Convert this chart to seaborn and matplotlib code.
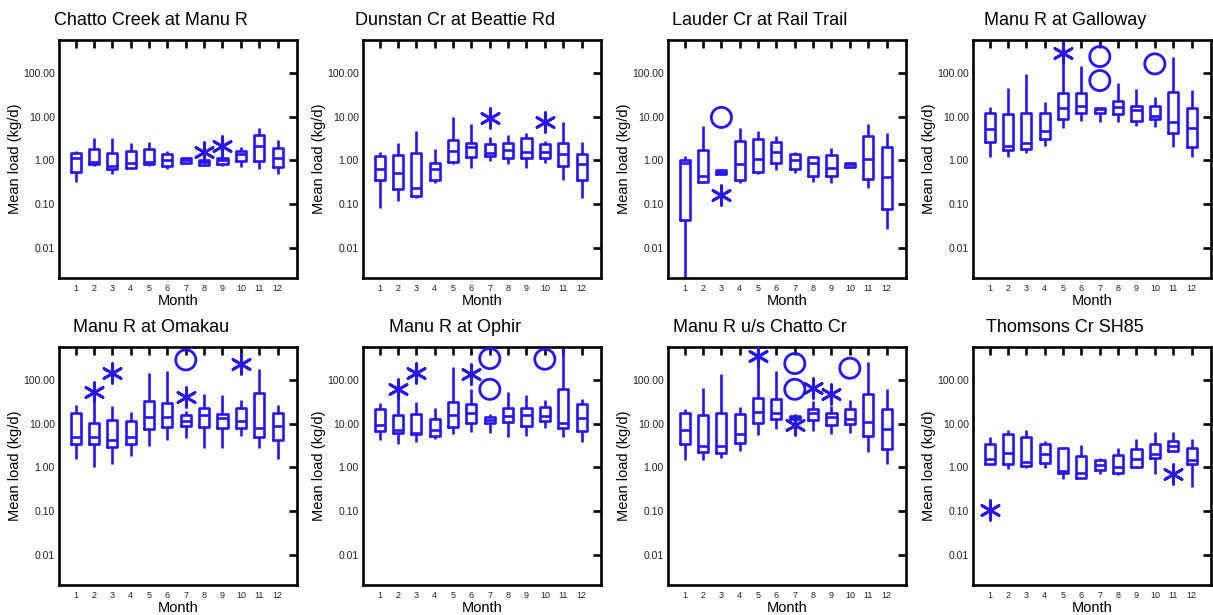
import numpy as np
import pandas as pd
import matplotlib
matplotlib.use("Agg")
import matplotlib.pyplot as plt
from matplotlib.ticker import NullLocator
import seaborn as sns

months = list(range(1, 13))
month_labels = [str(m) for m in months]
y_ticks = [0.01, 0.1, 1, 10, 100]
y_tick_labels = ["0.01", "0.10", "1.00", "10.00", "100.00"]

# box statistics per month (kg/d): lower whisker, lower hinge, median,
# upper hinge, upper whisker; then outside values (*) and far outside (o)
chatto_creek = {
    "lo":  [0.32, 0.75, 0.50, 0.62, 0.74, 0.65, 0.82, 0.75, 0.75, 0.72, 0.63, 0.49],
    "q1":  [0.53, 0.82, 0.63, 0.68, 0.81, 0.74, 0.88, 0.78, 0.82, 0.97, 0.97, 0.72],
    "med": [1.11, 0.93, 0.75, 0.85, 0.93, 1.02, 1.00, 0.90, 1.02, 1.40, 2.14, 1.11],
    "q3":  [1.50, 1.79, 1.50, 1.67, 1.79, 1.40, 1.13, 1.02, 1.11, 1.67, 3.80, 1.95],
    "hi":  [1.67, 3.20, 3.20, 2.55, 2.70, 1.67, 1.20, 1.05, 1.13, 2.06, 5.40, 2.93],
    "star": ([8, 9], [1.60, 2.17]),
    "circle": ([], []),
}
dunstan_cr = {
    "lo":  [0.079, 0.118, 0.134, 0.30, 0.81, 0.68, 0.98, 0.81, 0.68, 0.85, 0.35, 0.134],
    "q1":  [0.35, 0.22, 0.151, 0.35, 0.90, 1.21, 1.26, 1.15, 1.15, 1.15, 0.75, 0.35],
    "med": [0.65, 0.52, 0.235, 0.65, 1.67, 2.06, 1.45, 1.73, 1.58, 1.58, 1.37, 0.82],
    "q3":  [1.26, 1.33, 1.45, 0.88, 2.93, 2.55, 2.37, 2.55, 3.20, 2.37, 2.55, 1.40],
    "hi":  [1.58, 2.46, 4.70, 1.79, 9.70, 6.80, 3.50, 3.80, 4.30, 2.83, 7.50, 2.68],
    "star": ([7, 10], [9.2, 7.7]),
    "circle": ([], []),
}
lauder_cr = {
    "lo":  [0.001, 0.30, 0.46, 0.31, 0.50, 0.60, 0.52, 0.32, 0.30, 0.67, 0.235, 0.027],
    "q1":  [0.042, 0.32, 0.48, 0.35, 0.53, 0.88, 0.65, 0.44, 0.44, 0.69, 0.37, 0.075],
    "med": [0.85, 0.44, 0.55, 0.81, 1.07, 1.58, 1.02, 0.85, 0.68, 0.81, 1.07, 0.42],
    "q3":  [1.02, 1.73, 0.60, 2.83, 3.04, 2.60, 1.37, 1.19, 1.33, 0.88, 3.60, 2.06],
    "hi":  [1.26, 6.20, 0.62, 5.60, 4.70, 3.60, 1.58, 1.26, 1.95, 0.90, 6.70, 4.30],
    "star": ([3], [0.16]),
    "circle": ([3], [9.7]),
}
galloway = {
    "lo":  [1.21, 1.21, 1.45, 2.14, 5.4, 8.2, 7.7, 7.7, 6.2, 5.9, 2.06, 1.17],
    "q1":  [2.7, 1.73, 1.82, 3.04, 8.8, 12.0, 12.0, 11.4, 8.2, 8.8, 4.2, 2.06],
    "med": [5.25, 2.17, 2.46, 4.7, 15.7, 17.8, 14.9, 17.1, 14.4, 10.6, 7.7, 5.6],
    "q3":  [12.0, 11.4, 12.5, 12.0, 34.7, 35.0, 15.7, 23.5, 17.8, 17.8, 38.0, 15.7],
    "hi":  [16.5, 45.0, 96.0, 22.0, 560.0, 147.0, 16.5, 59.0, 43.0, 28.0, 242.0, 41.0],
    "star": ([5], [288.0]),
    "circle": ([7, 7, 10], [242.0, 68.0, 164.0]),
}
omakau = {
    "lo":  [1.6, 1.04, 1.21, 1.82, 3.1, 4.2, 4.8, 2.83, 2.73, 5.25, 2.73, 1.6],
    "q1":  [3.4, 3.5, 2.93, 3.5, 7.5, 8.5, 8.9, 8.5, 8.2, 8.2, 5.0, 4.2],
    "med": [5.1, 5.0, 4.25, 5.0, 14.6, 14.3, 11.6, 15.7, 13.9, 11.6, 8.2, 8.9],
    "q3":  [17.4, 10.6, 12.0, 11.6, 33.5, 30.7, 16.0, 23.5, 17.1, 22.7, 52.0, 17.4],
    "hi":  [27.0, 35.0, 25.7, 19.0, 150.0, 163.0, 19.7, 49.0, 47.0, 34.7, 179.0, 27.0],
    "star": ([2, 3, 7, 10], [54.0, 145.0, 41.0, 233.0]),
    "circle": ([7], [293.0]),
}
ophir = {
    "lo":  [4.2, 3.5, 3.8, 4.6, 5.7, 6.5, 6.3, 5.1, 5.25, 8.2, 5.0, 3.8],
    "q1":  [6.8, 6.3, 5.7, 5.25, 8.6, 10.6, 10.3, 11.2, 8.9, 11.6, 7.9, 6.8],
    "med": [9.4, 7.2, 6.3, 7.1, 16.0, 17.4, 12.3, 15.1, 15.7, 15.1, 10.6, 13.9],
    "q3":  [21.5, 15.7, 17.1, 13.1, 32.0, 28.0, 14.6, 23.5, 23.5, 24.8, 62.0, 28.0],
    "hi":  [30.7, 36.5, 32.0, 22.7, 202.0, 62.0, 16.5, 54.0, 45.0, 34.7, 700.0, 38.0],
    "star": ([2, 3, 6], [62.0, 150.0, 142.0]),
    "circle": ([7, 7, 10], [315.0, 62.0, 304.0]),
}
us_chatto = {
    "lo":  [1.47, 1.47, 1.67, 2.37, 5.5, 7.7, 5.5, 6.8, 5.9, 6.3, 2.25, 1.21],
    "q1":  [3.5, 2.29, 2.17, 3.7, 10.6, 13.1, 12.7, 12.0, 9.4, 10.1, 5.25, 2.6],
    "med": [7.1, 3.1, 3.1, 5.9, 19.0, 18.0, 13.9, 18.0, 14.3, 12.7, 11.0, 7.5],
    "q3":  [17.4, 15.7, 18.0, 16.5, 40.0, 36.6, 15.1, 22.3, 18.0, 22.3, 49.0, 22.3],
    "hi":  [22.3, 68.0, 137.0, 24.4, 560.0, 163.0, 15.5, 33.5, 25.7, 34.7, 269.0, 64.0],
    "star": ([5, 7, 8, 9], [363.0, 9.4, 68.0, 49.0]),
    "circle": ([7, 7, 10], [242.0, 62.0, 189.0]),
}
thomsons_cr = {
    "lo":  [1.13, 0.90, 0.98, 0.98, 0.53, 0.56, 0.69, 0.67, 0.95, 0.69, 2.30, 0.35],
    "q1":  [1.17, 1.17, 1.07, 1.28, 0.75, 0.56, 0.85, 0.75, 1.04, 1.67, 2.37, 1.21],
    "med": [1.53, 2.17, 1.35, 1.99, 0.82, 0.75, 1.15, 1.04, 1.53, 1.99, 3.10, 1.45],
    "q3":  [3.4, 5.7, 5.0, 3.5, 2.73, 1.82, 1.47, 1.92, 2.69, 3.4, 4.03, 2.83],
    "hi":  [5.0, 7.1, 7.1, 4.03, 2.93, 3.26, 1.61, 2.82, 4.4, 6.6, 6.5, 4.6],
    "star": ([1, 11], [0.104, 0.71]),
    "circle": ([], []),
}

site_names = [
    "Chatto Creek at Manu R", "Dunstan Cr at Beattie Rd",
    "Lauder Cr at Rail Trail", "Manu R at Galloway",
    "Manu R at Omakau", "Manu R at Ophir",
    "Manu R u/s Chatto Cr", "Thomsons Cr SH85",
]
site_stats = [chatto_creek, dunstan_cr, lauder_cr, galloway,
              omakau, ophir, us_chatto, thomsons_cr]

BLUE = "#2616F0"
W, H = 1213, 615

sns.set_style("white")
plt.rcParams["font.family"] = ["Liberation Sans", "DejaVu Sans"]


def box_frame(stats):
    """
    Long table with the five box values for every month.
    """

    rows = []

    for i, m in enumerate(month_labels):
        for key in ["lo", "q1", "med", "q3", "hi"]:
            rows.append({"month": m, "load": stats[key][i]})

    return pd.DataFrame(rows)


fig = plt.figure(figsize=(W / 100, H / 100), dpi=100)

lefts = [59, 363, 668, 973]
bottoms = [278, 585]

for k, (name, stats) in enumerate(zip(site_names, site_stats)):

    row, col = divmod(k, 4)

    ax = fig.add_axes([
        lefts[col] / W,
        1 - bottoms[row] / H,
        238 / W,
        238 / H
    ])

    sns.boxplot(
        data=box_frame(stats),
        x="month",
        y="load",
        order=month_labels,
        ax=ax,
        fill=False,
        color=BLUE,
        linewidth=1.9,
        width=0.55,
        whis=(0, 100),
        showcaps=False,
        showfliers=False,
        log_scale=True
    )

    star_m, star_v = stats["star"]
    if star_m:
        ax.scatter(
            np.array(star_m) - 1, star_v,
            marker=(6, 2, 0), s=200, linewidths=2.0,
            color=BLUE, zorder=4
        )

    circ_m, circ_v = stats["circle"]
    if circ_m:
        ax.scatter(
            np.array(circ_m) - 1, circ_v,
            marker="o", s=210, linewidths=2.0,
            facecolors="none", edgecolors=BLUE, zorder=4
        )

    ax.set_xlim(-0.91, 12.06)
    ax.set_ylim(0.002, 580)

    ax.set_yticks(y_ticks, y_tick_labels)
    ax.yaxis.set_minor_locator(NullLocator())

    ax.tick_params(
        direction="in", length=5.5, width=1.9,
        top=True, right=True, color="black"
    )
    ax.tick_params(axis="x", labelsize=6.5, pad=4, labelcolor="#222222")
    ax.tick_params(axis="y", labelsize=7.5, pad=3, labelcolor="#222222")

    for spine in ax.spines.values():
        spine.set_linewidth(1.9)
        spine.set_color("black")

    ax.set_xlabel("Month", fontsize=10.5, labelpad=1, color="black")
    ax.set_ylabel("Mean load (kg/d)", fontsize=10.5, labelpad=0.5,
                  color="black")

    ax.set_title(name, fontsize=13, x=0.387, pad=10.5, color="black")

fig.savefig("out.png", dpi=100)
